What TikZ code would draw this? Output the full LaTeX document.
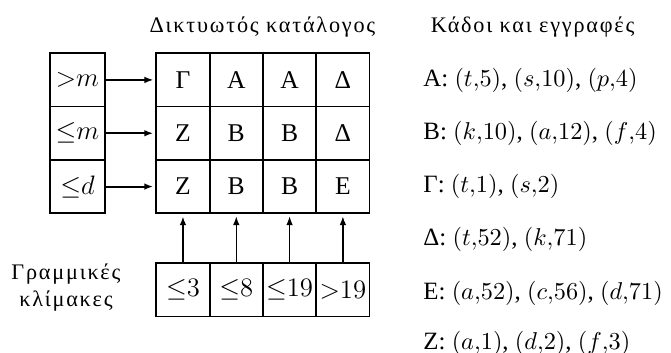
\documentclass[tikz,border=0pt]{standalone}
\usepackage{fontspec}
\setmainfont{Liberation Serif}
\newfontfamily\spaced[LetterSpace=8]{Liberation Serif}
\usetikzlibrary{arrows.meta}

\begin{document}
\begin{tikzpicture}[
  cell/.style={draw,line width=0.8pt,minimum width=0.843cm,minimum height=0.843cm,inner sep=0pt,font=\fontsize{11.5}{13}\selectfont},
  keycell/.style={cell,minimum width=0.87cm},
  ptr/.style={-{Latex[length=4pt,width=3pt]},line width=0.6pt,shorten >=1pt},
  ptrthick/.style={ptr,line width=0.9pt},
  record/.style={anchor=west,inner sep=0pt,font=\fontsize{11.2}{13}\selectfont}
]
\useasboundingbox (0,0) rectangle (10.61,5.58);
% headings
\node[font=\spaced] (title) at (4.15,5.159) {Δικτυωτός κατάλογος};
\node[font=\spaced,align=center] (scales) at (1.043,1.028) {Γραμμικές\\κλίμακες};
% linear scale of the first attribute
\node[keycell] (k1) at (1.225,4.316) {${>}m$};
\node[keycell] (k2) at (1.225,3.473) {${\leq}m$};
\node[keycell] (k3) at (1.225,2.630) {${\leq}d$};
% grid directory
\node[cell] (g11) at (2.893,4.316) {Γ};
\node[cell] (g12) at (3.736,4.316) {Α};
\node[cell] (g13) at (4.579,4.316) {Α};
\node[cell] (g14) at (5.422,4.316) {Δ};
\node[cell] (g21) at (2.893,3.473) {Ζ};
\node[cell] (g22) at (3.736,3.473) {Β};
\node[cell] (g23) at (4.579,3.473) {Β};
\node[cell] (g24) at (5.422,3.473) {Δ};
\node[cell] (g31) at (2.893,2.630) {Ζ};
\node[cell] (g32) at (3.736,2.630) {Β};
\node[cell] (g33) at (4.579,2.630) {Β};
\node[cell] (g34) at (5.422,2.630) {Ε};
% linear scale of the second attribute
\node[cell] (s1) at (2.893,0.996) {${\leq}3$};
\node[cell] (s2) at (3.736,0.996) {${\leq}8$};
\node[cell] (s3) at (4.579,0.996) {${\leq}19$};
\node[cell] (s4) at (5.422,0.996) {${>}19$};
% pointers into the directory
\draw[ptr] (k1) -- (g11);
\draw[ptrthick] (k2) -- (g21);
\draw[ptrthick] (k3) -- (g31);
\draw[ptrthick] (s1) -- (g31);
\draw[ptr] (s2) -- (g32);
\draw[ptr] (s3) -- (g33);
\draw[ptr] (s4) -- (g34);
% buckets and records
\node[anchor=west,font=\spaced] (buckets) at (6.688,5.159) {Κάδοι και εγγραφές};
\node[record] (bA) at (6.688,4.316) {Α: $(t{,}5)$, $(s{,}10)$, $(p{,}4)$};
\node[record] (bB) at (6.688,3.473) {Β: $(k{,}10)$, $(a{,}12)$, $(f{,}4)$};
\node[record] (bC) at (6.688,2.630) {Γ: $(t{,}1)$, $(s{,}2)$};
\node[record] (bD) at (6.688,1.787) {Δ: $(t{,}52)$, $(k{,}71)$};
\node[record] (bE) at (6.688,0.944) {Ε: $(a{,}52)$, $(c{,}56)$, $(d{,}71)$};
\node[record] (bZ) at (6.688,0.150) {Ζ: $(a{,}1)$, $(d{,}2)$, $(f{,}3)$};
\end{tikzpicture}
\end{document}
